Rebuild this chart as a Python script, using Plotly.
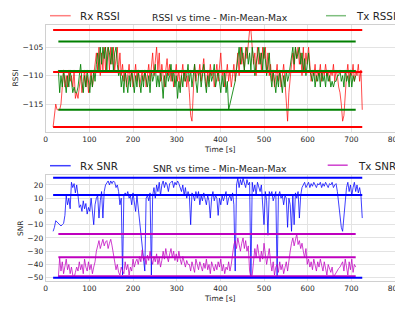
import plotly.graph_objects as go

# ---------------- data ----------------
STEP = 3
rx_t0 = 17
tx_t0 = 29

rx_rssi = [
    -119, -117, -115, -116, -116, -116, -115, -111, -109, -112,
    -110, -112, -109, -111, -110, -112, -109, -114, -113, -114,
    -112, -110, -113, -111, -109, -112, -110, -113, -111, -109,
    -112, -110, -108, -106, -109, -105, -110, -106, -109, -105,
    -109, -106, -105, -109, -105, -108, -105, -109, -107, -105,
    -109, -106, -110, -108, -111, -109, -112, -110, -108, -111,
    -109, -112, -110, -108, -111, -109, -112, -110, -109, -111,
    -109, -112, -110, -108, -111, -109, -106, -110, -108, -105,
    -109, -106, -111, -108, -110, -112, -109, -107, -110, -108,
    -111, -109, -112, -110, -108, -111, -109, -112, -110, -108,
    -111, -109, -112, -110, -113, -117, -118, -112, -108, -111,
    -109, -110, -108, -111, -109, -107, -110, -112, -109, -111,
    -108, -110, -109, -112, -110, -108, -111, -109, -106, -110,
    -109, -112, -110, -108, -111, -109, -112, -110, -108, -111,
    -109, -106, -110, -105, -108, -106, -109, -105, -107, -104,
    -102, -102, -105, -108, -106, -110, -105, -108, -106, -109,
    -105, -107, -105, -109, -106, -110, -108, -111, -109, -112,
    -110, -108, -111, -109, -112, -110, -108, -111, -114, -118,
    -113, -110, -108, -106, -109, -105, -107, -105, -108, -106,
    -110, -105, -109, -106, -108, -105, -109, -111, -109, -110,
    -108, -111, -109, -110, -108, -111, -109, -110, -108, -110,
    -109, -111, -109, -110, -108, -111, -109, -110, -112, -113,
    -115, -118, -117, -113, -110, -108, -111, -109, -110, -108,
    -111, -109, -110, -108, -111, -109, -116,
]
tx_rssi = [
    -109, -113, -110, -112, -109, -111, -113, -110, -112, -109,
    -111, -113, -112, -113, -113, -112, -110, -108, -111, -113,
    -110, -112, -109, -111, -113, -110, -112, -109, -111, -108,
    -106, -109, -105, -108, -105, -107, -105, -109, -105, -106,
    -108, -105, -109, -106, -105, -108, -110, -109, -112, -110,
    -113, -109, -111, -113, -110, -112, -109, -111, -113, -110,
    -112, -109, -111, -113, -110, -112, -109, -111, -112, -110,
    -113, -109, -111, -110, -108, -112, -110, -112, -109, -111,
    -114, -110, -112, -109, -111, -110, -108, -111, -109, -112,
    -110, -114, -111, -113, -110, -112, -109, -111, -110, -108,
    -111, -109, -112, -110, -108, -111, -113, -110, -109, -112,
    -110, -108, -111, -113, -110, -112, -109, -111, -110, -108,
    -112, -110, -109, -111, -113, -110, -112, -109, -113, -111,
    -116, -115, -114, -113, -112, -111, -109, -107, -105, -108,
    -105, -107, -109, -106, -105, -108, -106, -109, -105, -107,
    -110, -108, -106, -105, -108, -106, -109, -105, -107, -110,
    -108, -106, -110, -112, -109, -111, -113, -110, -112, -109,
    -111, -113, -110, -112, -109, -111, -110, -108, -106, -105,
    -108, -105, -107, -106, -105, -108, -106, -109, -107, -110,
    -108, -106, -109, -110, -111, -109, -112, -110, -111, -109,
    -112, -109, -111, -110, -112, -109, -111, -110, -112, -111,
    -112, -111, -111, -110, -110, -109, -111, -110, -112, -109,
    -111, -110, -112, -109, -112, -110, -111, -110,
]
rx_snr = [
    -15, -12, -7, -8, -9, -10, -11, -10, -9, -3,
    12, 5, 10, 2, 22, 18, 21, 14, 20, 12,
    3, 5, 0, 8, 2, 6, -2, 3, 0, 10,
    0, -10, 5, 10, 12, -5, 8, 15, -5, 15,
    20, 22, 23, 20, 23, 21, 23, 22, 18, 20,
    15, 5, 10, -48, 12, 14, 12, 15, 10, 12,
    5, 14, 8, 0, 12, 3, -5, -15, -25, -35,
    -45, 10, 12, 8, 14, -48, 12, 18, 10, 20,
    15, 22, 12, 20, 23, 18, 22, 20, 15, 21,
    22, 23, 18, 22, 20, 23, 21, 18, 15, 20,
    12, 18, 10, 15, 12, -10, 14, 12, 8, 15,
    10, 15, 5, 12, 8, 14, 10, 5, 12, 8,
    -5, 10, 15, 8, 12, 10, -3, 10, 5, 12,
    8, 12, 15, 5, 10, 12, 8, 14, 5, -45,
    20, 25, 18, 24, 20, 25, 22, 18, 24, 20,
    22, -50, 22, 15, 20, 12, 22, 18, 15, 20,
    5, -10, 15, 8, -18, 15, 12, 15, 8, 12,
    15, -50, 12, 15, 10, 12, 5, 12, 10, -12,
    10, 5, -15, 12, -10, 14, 10, 15, -5, 12,
    18, 20, 22, 18, 20, 22, 18, 21, 19, 22,
    20, 18, 21, 20, 22, 18, 21, 19, 22, 20,
    18, 21, 20, 22, 18, 20, 21, 15, 5, -5,
    -12, -15, -5, 5, 18, 22, 15, 20, 12, 18,
    22, 15, 20, 14, 18, 12, -5,
]
tx_snr = [
    -50, -35, -45, -38, -47, -40, -36, -44, -40, -47,
    -42, -48, -50, -46, -42, -45, -38, -44, -40, -47,
    -36, -42, -45, -38, -44, -40, -47, -42, -38, -30,
    -25, -22, -28, -24, -21, -26, -23, -22, -28, -24,
    -21, -26, -32, -38, -44, -40, -46, -48, -42, -45,
    -47, -38, -44, -40, -48, -42, -45, -36, -42, -38,
    -36, -40, -34, -38, -29, -37, -35, -40, -33, -37,
    -30, -36, -40, -34, -38, -32, -40, -35, -42, -37,
    -30, -36, -28, -34, -38, -32, -28, -35, -30, -37,
    -32, -38, -30, -36, -40, -34, -38, -42, -37, -40,
    -40, -45, -38, -42, -46, -36, -41, -44, -38, -42,
    -45, -39, -43, -36, -44, -40, -47, -38, -42, -45,
    -40, -44, -38, -42, -36, -45, -40, -47, -42, -44,
    -38, -45, -40, -30, -25, -22, -28, -20, -26, -30,
    -24, -20, -28, -22, -30, -26, -45, -50, -48, -40,
    -28, -35, -25, -32, -38, -30, -36, -24, -32, -40,
    -34, -28, -38, -45, -38, -48, -42, -40, -46, -38,
    -44, -40, -47, -42, -38, -45, -36, -30, -24, -20,
    -26, -22, -17, -25, -22, -28, -24, -30, -35, -28,
    -40, -36, -42, -38, -44, -36, -40, -45, -38, -42,
    -36, -40, -45, -38, -42, -48, -40, -44, -46, -42,
    -50, -48, -46, -45, -43, -42, -40, -38, -45, -36,
    -42, -48, -38, -44, -36, -46, -40, -42,
]

# min / mean / max levels
rx_rssi_stats = [-119, -109.35, -102]
tx_rssi_stats = [-116, -109.2, -104]
rx_snr_stats = [-50, 12.4, 25.5]
tx_snr_stats = [-49, -34.6, -17]

x_ticks = [0, 100, 200, 300, 400, 500, 600, 700, 800]
rssi_ticks = [-120, -115, -110, -105]
snr_ticks = [-50, -40, -30, -20, -10, 0, 10, 20]

rx_time = [rx_t0 + STEP * i for i in range(len(rx_rssi))]
tx_time = [tx_t0 + STEP * i for i in range(len(tx_rssi))]
rx_time_snr = [rx_t0 + STEP * i for i in range(len(rx_snr))]
tx_time_snr = [tx_t0 + STEP * i for i in range(len(tx_snr))]

# ---------------- figure ----------------
# the page body adds an 8px margin, so the figure is sized to the visible
# window area and reference pixel positions are offset by that margin
OFF = 8
W, H = 403 - OFF, 309 - OFF
FONT = "DejaVu Sans"
TXT = "#262626"
GRID = "#e3e3e3"

RED, GREEN, BLUE, MAG = "#ff0000", "#008000", "#0000ff", "#bf00bf"


def rgba(hexc, a):
    h = hexc.lstrip("#")
    return "rgba(%d,%d,%d,%.2f)" % (int(h[0:2], 16), int(h[2:4], 16), int(h[4:6], 16), a)


def px(x):
    return (x - OFF) / W


def py(y):
    return 1 - (y - OFF) / H


fig = go.Figure()

# data lines
fig.add_trace(go.Scatter(x=rx_time, y=rx_rssi, mode="lines", line=dict(color=rgba(RED, 0.7), width=1),
                         xaxis="x", yaxis="y", name="Rx RSSI"))
fig.add_trace(go.Scatter(x=tx_time, y=tx_rssi, mode="lines", line=dict(color=rgba(GREEN, 0.85), width=1),
                         xaxis="x", yaxis="y", name="Tx RSSI"))
fig.add_trace(go.Scatter(x=rx_time_snr, y=rx_snr, mode="lines", line=dict(color=rgba(BLUE, 0.75), width=1),
                         xaxis="x2", yaxis="y2", name="Rx SNR"))
fig.add_trace(go.Scatter(x=tx_time_snr, y=tx_snr, mode="lines", line=dict(color=rgba(MAG, 0.75), width=1),
                         xaxis="x2", yaxis="y2", name="Tx SNR"))

# min / mean / max lines
for times, stats, col, xa, ya in [
    (rx_time, rx_rssi_stats, RED, "x", "y"),
    (tx_time, tx_rssi_stats, GREEN, "x", "y"),
    (tx_time_snr, tx_snr_stats, MAG, "x2", "y2"),
    (rx_time_snr, rx_snr_stats, BLUE, "x2", "y2"),
]:
    for v in stats:
        fig.add_trace(go.Scatter(x=[times[0], times[-1]], y=[v, v], mode="lines",
                                 line=dict(color=col, width=2), xaxis=xa, yaxis=ya,
                                 showlegend=False, hoverinfo="skip"))

xdom = [px(45.7), px(395)]
top_dom = [py(132), py(25)]
bot_dom = [py(281), py(175)]

axis_common = dict(showgrid=True, gridcolor=GRID, gridwidth=1, zeroline=False,
                   showline=True, linecolor="#d0d0d0", linewidth=1, mirror=True,
                   ticks="", automargin=False,
                   tickfont=dict(family=FONT, size=7.5, color=TXT))


def fmt(v):
    s = "%g" % v
    return s.replace("-", "\u2212")


fig.update_layout(
    width=W, height=H, margin=dict(l=0, r=0, t=0, b=0, autoexpand=False),
    paper_bgcolor="white", plot_bgcolor="white", showlegend=False,
    xaxis=dict(domain=xdom, anchor="y", range=[0, 800], tickvals=x_ticks,
               ticktext=[fmt(v) for v in x_ticks], **axis_common),
    yaxis=dict(domain=top_dom, anchor="x", range=[-119.9, -101.1], tickvals=rssi_ticks,
               ticktext=[fmt(v) for v in rssi_ticks], **axis_common),
    xaxis2=dict(domain=xdom, anchor="y2", range=[0, 800], tickvals=x_ticks,
                ticktext=[fmt(v) for v in x_ticks], **axis_common),
    yaxis2=dict(domain=bot_dom, anchor="x2", range=[-52.5, 27.5], tickvals=snr_ticks,
                ticktext=[fmt(v) for v in snr_ticks], **axis_common),
)

ann = []


def text(x, y, s, size, xanchor="center", angle=0):
    ann.append(dict(x=px(x), y=py(y), xref="paper", yref="paper", text=s, showarrow=False,
                    xanchor=xanchor, yanchor="middle", textangle=angle,
                    font=dict(family=FONT, size=size, color=TXT)))


text(220.3, 18, "RSSI vs time - Min-Mean-Max", 9.3)
text(220.3, 168, "SNR vs time - Min-Mean-Max", 9.3)
text(220.3, 149, "Time [s]", 7.5)
text(220.3, 298, "Time [s]", 7.5)
text(15, 78.5, "RSSI", 7.5, angle=-90)
text(20, 228, "SNR", 7.5, angle=-90)

# legends (line sample + label)
shapes = []
for x0, x1, y, col, a, label, tx in [
    (50, 70.7, 15.7, RED, 0.5, "Rx RSSI", 78),
    (326, 346, 15.7, GREEN, 0.5, "Tx RSSI", 354),
    (50, 70.7, 165.7, BLUE, 0.75, "Rx SNR", 78),
    (327.7, 347.7, 165.2, MAG, 0.75, "Tx SNR", 356),
]:
    shapes.append(dict(type="line", xref="paper", yref="paper", x0=px(x0), x1=px(x1),
                       y0=py(y), y1=py(y), line=dict(color=rgba(col, a), width=1.5)))
    text(tx, y + 0.5, label, 10.3, xanchor="left")

fig.update_layout(annotations=ann, shapes=shapes)

fig.write_html("out.html")
